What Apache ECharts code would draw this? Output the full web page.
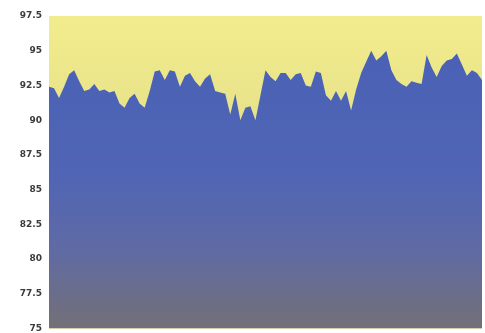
<!DOCTYPE html>
<html>
<head>
<meta charset="utf-8">
<script src="https://cdn.jsdelivr.net/npm/echarts@6/dist/echarts.min.js"></script>
<style>html,body{margin:0;padding:0;background:#fff;}#c{width:485px;height:333px;}</style>
</head>
<body>
<div id="c"></div>
<script>
const values = [
92.4,92.3,91.6,92.4,93.3,93.6,92.8,92.1,92.2,92.6,
92.1,92.2,92.0,92.1,91.2,90.9,91.6,91.9,91.2,90.9,
92.1,93.5,93.6,92.9,93.6,93.5,92.4,93.2,93.4,92.8,
92.4,93.0,93.3,92.1,92.0,91.9,90.4,91.9,90.0,90.9,
91.0,90.0,91.8,93.6,93.1,92.8,93.4,93.4,92.9,93.3,
93.4,92.5,92.4,93.5,93.4,91.8,91.4,92.1,91.4,92.1,
90.7,92.2,93.4,94.2,95.0,94.3,94.6,95.0,93.6,92.9,
92.6,92.4,92.8,92.7,92.6,94.7,93.8,93.1,93.9,94.3,
94.4,94.8,94.0,93.2,93.6,93.4,92.9
];
const categories = values.map((v, i) => String(i + 1));
const yMin = 75, yMax = 97.5, yStep = 2.5;

const chart = echarts.init(document.getElementById('c'), null, {renderer: 'canvas'});
chart.setOption({
  animation: false,
  grid: {
    left: 49, right: 3, top: 16, bottom: 3,
    show: true,
    borderWidth: 0,
    backgroundColor: {
      type: 'linear', x: 0, y: 0, x2: 0, y2: 1,
      colorStops: [
        {offset: 0, color: '#f1ec8e'},
        {offset: 0.12, color: '#efe98c'},
        {offset: 0.35, color: '#e6e08a'},
        {offset: 1, color: '#e6e08a'}
      ]
    }
  },
  xAxis: {
    type: 'category',
    data: categories,
    boundaryGap: false,
    axisLine: {show: false},
    axisTick: {show: false},
    axisLabel: {show: false},
    splitLine: {show: false}
  },
  yAxis: {
    type: 'value',
    min: yMin, max: yMax, interval: yStep,
    axisLine: {show: false},
    axisTick: {show: false},
    splitLine: {show: false},
    axisLabel: {
      color: '#3a3a3a',
      fontSize: 9,
      fontWeight: 'bold',
      fontFamily: 'DejaVu Sans',
      margin: 7
    }
  },
  series: [{
    type: 'line',
    data: values,
    symbol: 'none',
    lineStyle: {width: 0},
    areaStyle: {
      opacity: 1,
      origin: 'start',
      color: {
        type: 'linear', x: 0, y: 0, x2: 0, y2: 1,
        colorStops: [
          {offset: 0, color: '#4a61b6'},
          {offset: 0.45, color: '#5065b4'},
          {offset: 0.7, color: '#5f6aa6'},
          {offset: 1, color: '#737077'}
        ]
      }
    }
  }]
});
</script>
</body>
</html>
